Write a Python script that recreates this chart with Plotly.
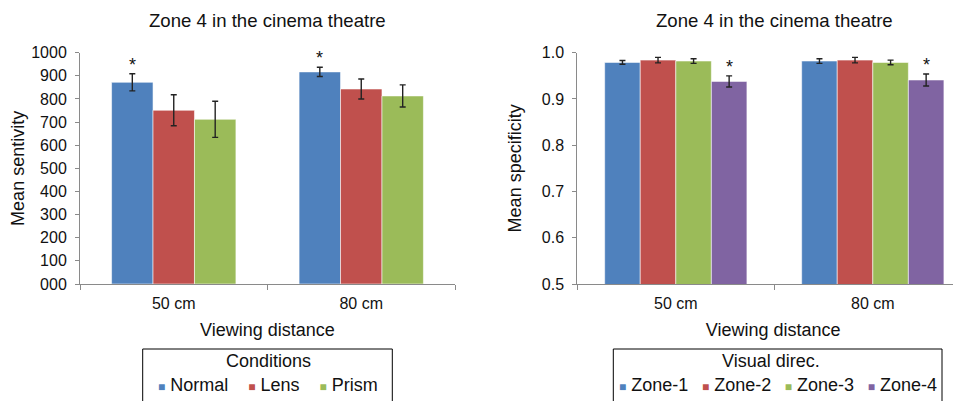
import plotly.graph_objects as go

# ---------------- data ----------------
distances = ["50 cm", "80 cm"]

cond_names = ["Normal", "Lens", "Prism"]
cond_colors = ["#4F81BD", "#C0504D", "#9BBB59"]
sens_normal = [872, 917]
sens_lens = [751, 843]
sens_prism = [712, 813]
sens_err_normal = [37, 20]
sens_err_lens = [67, 43]
sens_err_prism = [78, 48]
sens_signif = ["Normal"]          # series marked with *

zone_names = ["Zone-1", "Zone-2", "Zone-3", "Zone-4"]
zone_colors = ["#4F81BD", "#C0504D", "#9BBB59", "#8064A2"]
spec_zone1 = [0.979, 0.982]
spec_zone2 = [0.984, 0.984]
spec_zone3 = [0.982, 0.979]
spec_zone4 = [0.938, 0.941]
spec_err_zone1 = [0.004, 0.005]
spec_err_zone2 = [0.006, 0.006]
spec_err_zone3 = [0.005, 0.005]
spec_err_zone4 = [0.012, 0.013]
spec_signif = ["Zone-4"]

sens_ticks = list(range(0, 1001, 100))
sens_ticktext = [f"{v:03d}" for v in sens_ticks]
spec_ticks = [0.5, 0.6, 0.7, 0.8, 0.9, 1.0]

chart_title = "Zone 4 in the cinema theatre"
x_title = "Viewing distance"
left_ytitle = "Mean sentivity"
right_ytitle = "Mean specificity"
left_legend_title = "Conditions"
right_legend_title = "Visual direc."

# ---------------- styling ----------------
FONT = "Liberation Sans, Arial, Helvetica, sans-serif"
TXT = "#111111"
AXIS = "#8a8a8a"
W, H = 961, 401
PAGE_OFF = 8  # default body margin of the html page


def px_x(p):
    return (p - PAGE_OFF) / W


def px_y(p):
    return 1 - (p - PAGE_OFF) / H


fig = go.Figure()

sens_vals = [sens_normal, sens_lens, sens_prism]
sens_errs = [sens_err_normal, sens_err_lens, sens_err_prism]
spec_vals = [spec_zone1, spec_zone2, spec_zone3, spec_zone4]
spec_errs = [spec_err_zone1, spec_err_zone2, spec_err_zone3, spec_err_zone4]

annotations = []


def add_group(names, colors, vals, errs, signif, group_frac, xa, ya):
    n = len(names)
    w = group_frac / n
    for j, (nm, col, v, e) in enumerate(zip(names, colors, vals, errs)):
        off = -group_frac / 2 + j * w
        fig.add_trace(go.Bar(
            x=distances, y=v, name=nm, width=w, offset=off,
            marker=dict(color=col, line=dict(color="rgba(255,255,255,0.55)", width=1)),
            error_y=dict(type="data", array=e, color="#222222", thickness=1.4, width=3),
            xaxis=xa, yaxis=ya, showlegend=False,
        ))
        if nm in signif:
            for i in range(len(distances)):
                annotations.append(dict(
                    x=i + off + w / 2, y=v[i] + e[i], xref=xa, yref=ya,
                    text="*", showarrow=False, yanchor="bottom", xanchor="center",
                    yshift=-3, font=dict(size=18, color=TXT, family=FONT)))


add_group(cond_names, cond_colors, sens_vals, sens_errs, sens_signif, 0.663, "x", "y")
add_group(zone_names, zone_colors, spec_vals, spec_errs, spec_signif, 0.722, "x2", "y2")

ydom = [px_y(284), px_y(52.7)]
left_dom = [px_x(80), px_x(455)]
right_dom = [px_x(577.3), 1.0]
cat_px_right = 197.0
right_visible_end = W + PAGE_OFF

axis_common = dict(
    showgrid=False, zeroline=False, showline=True, linecolor=AXIS, linewidth=1,
    ticks="outside", tickcolor=AXIS, ticklen=4, tickwidth=1, automargin=False,
    tickfont=dict(size=16, color=TXT, family=FONT), ticklabelstandoff=5,
)
xaxis_common = {k: v for k, v in axis_common.items() if k not in ("ticklen", "ticklabelstandoff")}

fig.update_layout(
    width=W, height=H,
    margin=dict(l=0, r=0, t=0, b=0, autoexpand=False),
    paper_bgcolor="white", plot_bgcolor="white",
    font=dict(family=FONT, color=TXT),
    showlegend=False,
    xaxis=dict(domain=left_dom, anchor="y", type="category", range=[-0.5, 1.5],
               tickson="boundaries", ticklen=5, ticklabelstandoff=5,
               title=dict(text=x_title, font=dict(size=18, color=TXT), standoff=12),
               **xaxis_common),
    yaxis=dict(domain=ydom, anchor="x", range=[0, 1000], tickvals=sens_ticks,
               ticktext=sens_ticktext,
               title=dict(text=left_ytitle, font=dict(size=18, color=TXT), standoff=3),
               **axis_common),
    xaxis2=dict(domain=right_dom, anchor="y2", type="category",
                range=[-0.5, -0.5 + (right_visible_end - 577.3) / cat_px_right],
                tickson="boundaries", ticklen=5, ticklabelstandoff=5,
                title=dict(text=x_title, font=dict(size=18, color=TXT), standoff=12),
                **xaxis_common),
    yaxis2=dict(domain=ydom, anchor="x2", range=[0.5, 1.0], tickvals=spec_ticks,
                tickformat=".1f",
                title=dict(text=right_ytitle, font=dict(size=18, color=TXT), standoff=15),
                **axis_common),
)

# chart titles
for xa in ["x", "x2"]:
    annotations.append(dict(x=0.5, xref=xa, y=px_y(20), yref="paper", text=chart_title,
                            showarrow=False, yanchor="middle", xanchor="center",
                            font=dict(size=18.6, color=TXT, family=FONT)))


# hand-built legends (title + row of coloured squares), framed by a box
def legend_row(names, colors, sep):
    parts = []
    for nm, col in zip(names, colors):
        parts.append(f"<span style='color:{col};font-size:12px'>\u25A0</span> {nm}")
    return sep.join(parts)


legends = [
    (left_legend_title, cond_names, cond_colors, 142.7, 392.3, 268.5, "\u00a0" * 4),
    (right_legend_title, zone_names, zone_colors, 613.3, 942.0, 771.0, "\u00a0\u00a0\u2009"),
]
shapes = []
for title, names, colors, x0, x1, tx, sep in legends:
    cx = px_x((x0 + x1) / 2)
    shapes.append(dict(type="rect", xref="paper", yref="paper",
                       x0=px_x(x0), x1=px_x(x1), y0=-0.1, y1=px_y(349),
                       line=dict(color="#000000", width=1), fillcolor="rgba(0,0,0,0)"))
    annotations.append(dict(x=px_x(tx), y=px_y(361), xref="paper", yref="paper", text=title,
                            showarrow=False, yanchor="middle", xanchor="center",
                            font=dict(size=18, color=TXT, family=FONT)))
    annotations.append(dict(x=cx, y=px_y(385), xref="paper", yref="paper",
                            text=legend_row(names, colors, sep),
                            showarrow=False, yanchor="middle", xanchor="center",
                            font=dict(size=18, color=TXT, family=FONT)))

fig.update_layout(annotations=annotations, shapes=shapes)

fig.write_html("out.html")
